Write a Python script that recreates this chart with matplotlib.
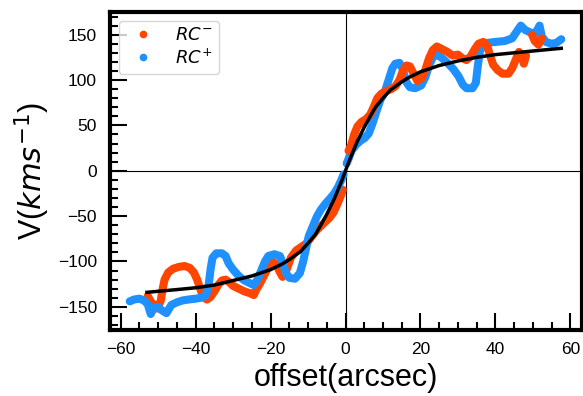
import matplotlib.pyplot as plt
from matplotlib.ticker import MultipleLocator
import numpy as np

# rotation curve points: offset (arcsec), velocity (km/s)
rcm_neg_x = [-52.8, -52.0, -51.0, -50.2, -49.3, -48.8, -48.3, -47.3, -46.0, -44.5, -43.0, -41.6,
             -40.5, -39.6, -38.8, -38.0, -37.0, -36.0, -35.0, -34.0, -33.0, -32.0, -31.0, -30.0,
             -28.5, -27.0, -25.5, -24.5, -23.8, -22.8, -21.8, -20.8, -19.5, -18.5, -17.5, -16.8,
             -15.8, -14.6, -13.2, -11.8, -10.4, -9.1, -7.8, -6.1, -4.3, -3.2, -2.2, -1.2, -0.7]
rcm_neg_v = [-138, -144, -149, -152, -143, -130, -120, -112, -108, -106, -105, -107,
             -112, -120, -130, -139, -142, -139, -133, -126, -121, -120, -123, -127,
             -130, -133, -135, -137, -131, -124, -116, -108, -100, -103, -112, -117,
             -110, -96, -88, -84, -80, -73, -66, -59, -52, -46, -37, -27, -21]

rcm_pos_x = [0.8, 1.5, 2.3, 3.2, 4.3, 5.5, 6.6, 7.5, 8.5, 9.6, 10.9, 12.2, 13.3, 14.4, 15.3,
             16.3, 17.2, 18.2, 19.2, 20.3, 21.3, 22.3, 23.3, 24.4, 25.8, 27.2, 28.6, 30.0, 31.2,
             32.3, 33.4, 34.5, 35.5, 36.8, 37.8, 38.6, 39.4, 40.6, 41.9, 43.5, 44.5, 45.4, 46.3,
             47.0, 47.6, 48.2, np.nan, 49.8, 50.5, 51.5, 52.4]
rcm_pos_v = [22, 28, 40, 49, 54, 57, 62, 70, 80, 85, 88, 90, 93, 100, 110,
             116, 115, 107, 99, 102, 111, 124, 133, 137, 134, 131, 127, 128, 124,
             122, 126, 134, 140, 142, 138, 127, 117, 111, 107, 107, 113, 122, 131,
             128, 118, 127, np.nan, 150, 143, 139, 146]

rcp_neg_x = [-57.6, -56.5, -55.0, -53.8, -52.8, -52.0, -51.2, -50.0, -49.0, -47.8, -46.5, -45.0,
             -43.5, -42.0, -40.0, -38.5, -37.2, -36.5, -36.0, -35.5, -34.5, -33.0, -32.0, -31.2,
             -30.0, -28.5, -27.0, -25.5, -24.5, -23.5, -22.5, -21.5, -20.6, -19.0, -17.5, -16.6,
             -16.0, -15.0, -13.5, -12.2, -11.3, -10.5, -9.8, -8.8, -7.7, -6.6, -5.3, -4.0, -3.0,
             -2.0, -1.2, -0.5]
rcp_neg_v = [-144, -142, -141, -143, -147, -158, -151, -150, -154, -157, -148, -145,
             -143, -142, -141, -140, -137, -125, -108, -96, -91, -91, -94, -102,
             -109, -116, -121, -124, -126, -120, -110, -100, -94, -92, -94, -103,
             -112, -118, -119, -113, -100, -85, -72, -62, -51, -43, -36, -30, -25,
             -18, -11, -4]

rcp_pos_x = [0.3, 0.9, 1.6, 2.9, 4.0, 5.1, 6.2, 7.2, 8.3, 9.3, 10.5, 11.5, 12.5, 13.3, 14.4,
             15.3, 16.2, 17.2, 18.6, 20.2, 21.3, 22.3, 23.3, 24.5, 25.8, 27.2, 28.8, 30.2, 31.3,
             32.3, 33.9, 34.8, 35.3, 35.9, 36.8, 38.0, 40.0, 42.5, 44.5, 45.8, 46.8, 48.0, 49.6,
             50.8, 51.8, 52.4, 53.5, 55.0, 56.3, 57.6]
rcp_pos_v = [8, 14, 22, 29, 33, 36, 41, 52, 66, 78, 87, 100, 113, 118, 119,
             112, 98, 92, 91, 94, 103, 116, 125, 128, 124, 119, 112, 104, 95,
             91, 91, 97, 115, 132, 139, 141, 142, 143, 146, 154, 160, 155, 152,
             152, 160, 148, 142, 140, 141, 145]

# fitted curve
fit_x = [-53, -45, -40, -35, -30, -25, -20, -17, -15, -12, -10, -8, -7, -5, -3, -1, 0,
         1, 3, 5, 7, 8, 10, 12, 15, 17, 20, 25, 30, 35, 40, 50, 57.6]
fit_v = [-134, -131, -129, -126, -121, -116, -109, -103, -98, -89, -80, -70, -63, -48, -31, -11, 0,
         11, 31, 48, 63, 70, 80, 89, 98, 103, 109, 116, 121, 125, 128, 132, 135]

red = '#FF4500'
blue = '#1E90FF'

plt.rcParams['font.family'] = 'Liberation Sans'
plt.rcParams['mathtext.fontset'] = 'dejavusans'

fig = plt.figure(figsize=(5.83, 3.96), dpi=100)
ax = fig.add_axes([109.5 / 583, 1 - 329.5 / 396, 472 / 583, 317.5 / 396])

ax.axhline(0, color='k', lw=0.8, zorder=1)
ax.axvline(0, color='k', lw=0.8, zorder=1)

band = dict(lw=5.8, solid_capstyle='round', solid_joinstyle='round', zorder=2)
ax.plot(rcm_neg_x, rcm_neg_v, color=red, **band)
ax.plot(rcp_neg_x, rcp_neg_v, color=blue, **band)
ax.plot(rcp_pos_x, rcp_pos_v, color=blue, **band)
ax.plot(rcm_pos_x, rcm_pos_v, color=red, **band)
ax.plot(fit_x, fit_v, color='k', lw=2.5, zorder=3)

# legend proxies
ax.plot([], [], 'o', color=red, ms=4.5, label=r'$RC^{-}$')
ax.plot([], [], 'o', color=blue, ms=4.5, label=r'$RC^{+}$')
ax.legend(loc='upper left', fontsize=13, labelspacing=0.2, borderpad=0.35)

ax.set_xlim(-63, 63)
ax.set_ylim(-175, 175)
ax.xaxis.set_major_locator(MultipleLocator(20))
ax.xaxis.set_minor_locator(MultipleLocator(5))
ax.yaxis.set_major_locator(MultipleLocator(50))
ax.yaxis.set_minor_locator(MultipleLocator(10))
ax.tick_params(which='major', direction='in', length=12, width=1.5, labelsize=12.5, pad=9)
ax.tick_params(which='minor', direction='in', length=6, width=1.5)
for s in ax.spines.values():
    s.set_linewidth(3)

ax.set_xlabel('offset(arcsec)', fontsize=22)
ax.set_ylabel(r'V($kms^{-1}$)', fontsize=22)

fig.savefig('out.png', dpi=100)
